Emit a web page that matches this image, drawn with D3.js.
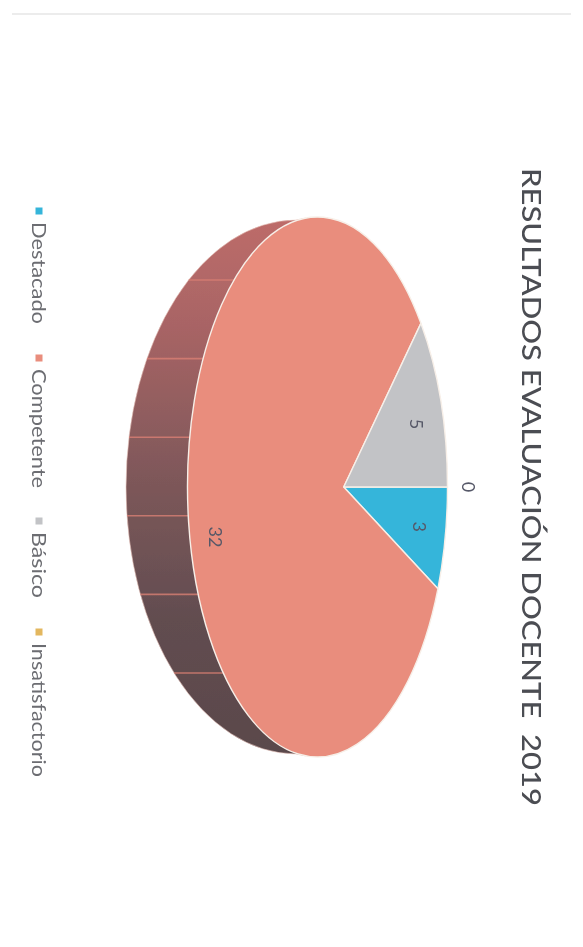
<!DOCTYPE html>
<html>
<head>
<meta charset="utf-8">
<script src="https://cdn.jsdelivr.net/npm/d3@7"></script>
<style>html,body{margin:0;padding:0;background:#fff}svg{display:block}</style>
</head>
<body>
<script>
const titleText = "RESULTADOS EVALUACIÓN DOCENTE  2019";
const categories = ["Destacado", "Competente", "Básico", "Insatisfactorio"];
const values = [3, 32, 5, 0];
const colors = ["#36b5da", "#e98d7d", "#c2c3c6", "#e3b75f"];
const seams = [0, 1, 2, 3, 4, 5];

const W = 583, H = 947;
const svg = d3.select("body").append("svg").attr("width", W).attr("height", H);
const defs = svg.append("defs");
defs.append("filter").attr("id", "soft").append("feGaussianBlur").attr("stdDeviation", 0.45);
defs.append("filter").attr("id", "softer").append("feGaussianBlur").attr("stdDeviation", 0.7);
const grad = defs.append("linearGradient").attr("id", "side")
  .attr("gradientUnits", "userSpaceOnUse").attr("x1", 0).attr("x2", 0).attr("y1", 220).attr("y2", 753);
[[0, "#bd6c69"], [0.2, "#a86465"], [0.5, "#7c5759"], [0.75, "#624d50"], [1, "#5a484b"]].forEach(([o, c]) =>
  grad.append("stop").attr("offset", o).attr("stop-color", c));

// faint scan edge
svg.append("rect").attr("x", 12).attr("width", 559).attr("y", 13).attr("height", 2)
  .attr("fill", "#ececec").attr("filter", "url(#softer)");

// Top face ellipse and back (extruded) ellipse
const face = {cx: 317.5, cy: 487, rx: 130, ry: 270};
const rear = {cx: 296, cy: 487, rx: 170, ry: 267};
const K = 0.815; // perspective foreshortening of the pie plane

const persp = a => 2 * Math.atan2(K * Math.sin(a / 2), Math.cos(a / 2));
const onFace = t => [face.cx + face.rx * Math.cos(t), face.cy + face.ry * Math.sin(t)];
// centre of the circle under the same projection
const apex = [face.cx + face.rx * Math.cos(persp(Math.PI / 2)), face.cy];

const pie = d3.pie().sort(null).startAngle(0).endAngle(2 * Math.PI);
const arcs = pie(values);

// Side wall
const sideG = svg.append("g").attr("filter", "url(#soft)");
sideG.append("path")
  .attr("d", `M${onFace(-Math.PI / 2 - 0.09)} L${rear.cx},${rear.cy - rear.ry}
    A${rear.rx},${rear.ry} 0 0 0 ${rear.cx},${rear.cy + rear.ry}
    L${onFace(Math.PI / 2 + 0.09)} Z`)
  .attr("fill", "url(#side)").attr("stroke", "#e8c4bc").attr("stroke-width", 0.6);

const seamY = d3.scaleLinear().domain([0, 5]).range([280, 673]);
const xOn = (e, y) => e.cx - e.rx * Math.sqrt(1 - ((y - e.cy) / e.ry) ** 2);
sideG.selectAll("line.seam").data(seams).join("line")
  .attr("class", "seam")
  .attr("x1", d => xOn(rear, seamY(d)))
  .attr("x2", d => xOn(face, seamY(d)))
  .attr("y1", d => seamY(d)).attr("y2", d => seamY(d))
  .attr("stroke", "#d97f74").attr("stroke-width", 1.6).attr("stroke-opacity", 0.8);

// Top face slices; angles are measured from the right-hand (chart top) radius
const norm = a => a > Math.PI ? a - 2 * Math.PI : a;
svg.append("g").attr("filter", "url(#soft)")
  .selectAll("path").data(arcs.filter(d => d.value > 0)).join("path")
  .attr("d", d => {
    const t0 = persp(norm(d.startAngle));
    let t1 = persp(norm(d.endAngle));
    if (t1 <= t0) t1 += 2 * Math.PI;
    const large = t1 - t0 > Math.PI ? 1 : 0;
    return `M${apex} L${onFace(t0)} A${face.rx},${face.ry} 0 ${large} 1 ${onFace(t1)} Z`;
  })
  .attr("fill", d => colors[d.index])
  .attr("stroke", "#f7efe8").attr("stroke-width", 1.4).attr("stroke-linejoin", "round");

// Data labels
svg.append("g").attr("filter", "url(#soft)")
  .selectAll("text").data(arcs).join("text")
  .attr("transform", d => {
    const mid = norm((d.startAngle + d.endAngle) / 2);
    const e = onFace(persp(mid));
    let p;
    if (d.value === 0) p = [e[0] + 21, e[1]];
    else {
      const f = d.value > 10 ? 0.83 : 0.75;
      p = [apex[0] + (e[0] - apex[0]) * f, apex[1] + (e[1] - apex[1]) * f + (d.value > 10 ? 7 : 1)];
    }
    return `translate(${p[0]},${p[1]}) rotate(90)`;
  })
  .attr("text-anchor", "middle").attr("dominant-baseline", "central")
  .attr("font-family", "Lato, 'Noto Sans', sans-serif").attr("font-size", 18)
  .attr("fill", "#565868")
  .text(d => d.value);

// Title
svg.append("text")
  .attr("transform", "translate(522,168) rotate(90)")
  .attr("font-family", "Lato, 'Noto Sans', sans-serif").attr("font-size", 27)
  .attr("font-weight", 500)
  .style("white-space", "pre")
  .attr("textLength", 638).attr("lengthAdjust", "spacingAndGlyphs")
  .attr("fill", "#4c4d52").attr("filter", "url(#soft)")
  .text(titleText);

// Legend
const legendMarkY = d3.scaleOrdinal().domain(categories).range([211, 358, 521, 632]);
const legendTextLen = d3.scaleOrdinal().domain(categories).range([102, 119, 66, 134]);
const legend = svg.append("g").attr("filter", "url(#softer)");
legend.selectAll("rect").data(categories).join("rect")
  .attr("x", 35.5).attr("y", d => legendMarkY(d) - 3.5)
  .attr("width", 7).attr("height", 7)
  .attr("fill", (d, i) => colors[i]);
legend.selectAll("text").data(categories).join("text")
  .attr("transform", d => `translate(32,${legendMarkY(d) + 11}) rotate(90)`)
  .attr("font-family", "Lato, 'Noto Sans', sans-serif").attr("font-size", 20)
  .attr("textLength", d => legendTextLen(d)).attr("lengthAdjust", "spacingAndGlyphs")
  .attr("fill", "#6c6d72")
  .text(d => d);
</script>
</body>
</html>
